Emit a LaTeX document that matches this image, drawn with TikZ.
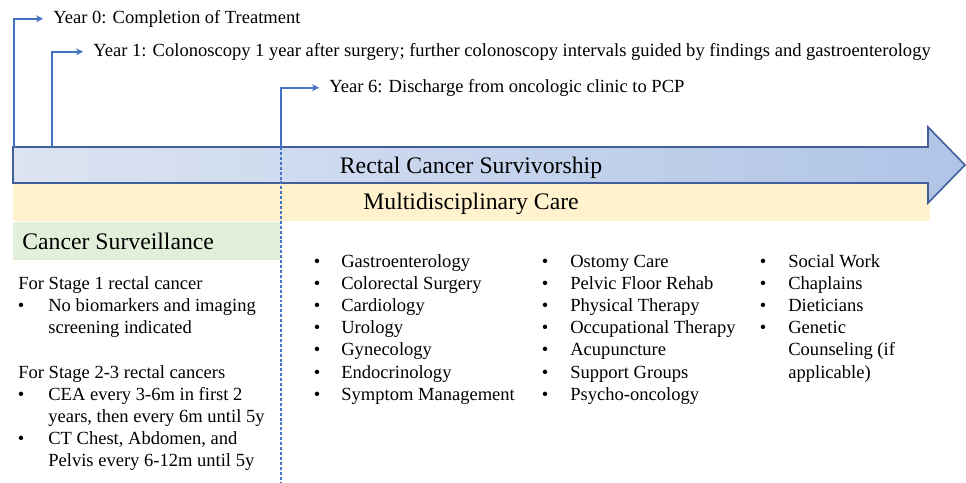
\documentclass[tikz,border=0pt]{standalone}
\usepackage{fontspec}
\setmainfont{Liberation Serif}
\usepackage{tikz}
\usetikzlibrary{arrows.meta,positioning}

\definecolor{tlblue}{HTML}{4472C4}
\definecolor{arrowedge}{HTML}{41609A}
\definecolor{arrowleft}{HTML}{DCE4F2}
\definecolor{arrowright}{HTML}{B0C4E7}
\definecolor{careyellow}{HTML}{FFF2CC}
\definecolor{survgreen}{HTML}{E2EFDA}

\begin{document}
\begin{tikzpicture}[
    x=0.02cm, y=-0.02cm,
    tl/.style={draw=tlblue, line width=1.1pt, -{Stealth[length=4pt,width=4pt]}, shorten >=0.2cm},
    yeartxt/.style={anchor=west, inner sep=0pt, text height=7pt, text depth=2pt, yshift=-0.035cm, font=\fontsize{10.55}{12}\selectfont},
    head/.style={inner sep=0pt, text height=9pt, text depth=2.5pt, yshift=-0.035cm, font=\fontsize{13.5}{16}\selectfont},
    item/.style={anchor=west, inner sep=0pt, text height=7pt, text depth=2pt, yshift=-0.035cm, font=\fontsize{10.55}{12}\selectfont},
    dot/.style={inner sep=0pt, text height=7pt, text depth=2pt, yshift=-0.035cm, font=\fontsize{10.55}{12}\selectfont}
]
    \useasboundingbox (0,0) rectangle (966,483);

    % Bands
    \fill[careyellow] (13,184) rectangle (930,221);
    \fill[survgreen] (13,222) rectangle (280,260);
    \draw[arrowedge, line width=0.9pt, left color=arrowleft, right color=arrowright]
        (13,147) -- (928,147) -- (928,127) -- (965,165) -- (928,203) -- (928,183) -- (13,183) -- cycle;

    % Headings
    \node[head] (surv) at (471,166) {Rectal Cancer Survivorship};
    \node[head] (multi) at (471,202) {Multidisciplinary Care};
    \node[head, anchor=west] (cs) at (22,242) {Cancer Surveillance};

    % Timeline
    \coordinate (t0) at (14,147);
    \coordinate (t1) at (52,147);
    \coordinate (t6) at (281,147);
    \coordinate (tend) at (281,483);
    \node[yeartxt] (y0) at (53,17) {Year 0: Completion of Treatment};
    \node[yeartxt] (y1) at (93,50) {Year 1: Colonoscopy 1 year after surgery; further colonoscopy intervals guided by findings and gastroenterology};
    \node[yeartxt] (y6) at (329,86) {Year 6: Discharge from oncologic clinic to PCP};
    \draw[tl] (t0) |- (y0.west);
    \draw[tl] (t1) |- (y1.west);
    \draw[tl] (t6) |- (y6.west);
    \draw[tlblue, line width=0.9pt, dash pattern=on 1.7pt off 1.1pt] (t6) -- (tend);

    % Surveillance
    \node[item] (st1) at (18,283) {For Stage 1 rectal cancer};
    \node[dot] (b1) at (21,305) {\textbullet};
    \node[item] (st1a) at (48,305) {No biomarkers and imaging};
    \node[item] (st1b) at (48,327) {screening indicated};
    \node[item] (st2) at (18,372) {For Stage 2-3 rectal cancers};
    \node[dot] (b2) at (21,394) {\textbullet};
    \node[item] (st2a) at (48,394) {CEA every 3-6m in first 2};
    \node[item] (st2b) at (48,416) {years, then every 6m until 5y};
    \node[dot] (b3) at (21,438) {\textbullet};
    \node[item] (st2c) at (48,438) {CT Chest, Abdomen, and};
    \node[item] (st2d) at (48,460) {Pelvis every 6-12m until 5y};

    % Multidisciplinary columns
    \foreach \t [count=\i] in {Gastroenterology, Colorectal Surgery, Cardiology, Urology,
        Gynecology, Endocrinology, Symptom Management} {
        \node[dot] (ca\i) at (317,{261+22.2*(\i-1)}) {\textbullet};
        \node[item] (ta\i) at (341,{261+22.2*(\i-1)}) {\t};
    }
    \foreach \t [count=\i] in {Ostomy Care, Pelvic Floor Rehab, Physical Therapy,
        Occupational Therapy, Acupuncture, Support Groups, Psycho-oncology} {
        \node[dot] (cb\i) at (545,{261+22.2*(\i-1)}) {\textbullet};
        \node[item] (tb\i) at (570,{261+22.2*(\i-1)}) {\t};
    }
    \foreach \t [count=\i] in {Social Work, Chaplains, Dieticians, Genetic} {
        \node[dot] (cc\i) at (763,{261+22.2*(\i-1)}) {\textbullet};
        \node[item] (tc\i) at (788,{261+22.2*(\i-1)}) {\t};
    }
    \node[item] (tc5) at (788,349.8) {Counseling (if};
    \node[item] (tc6) at (788,372) {applicable)};
\end{tikzpicture}
\end{document}
